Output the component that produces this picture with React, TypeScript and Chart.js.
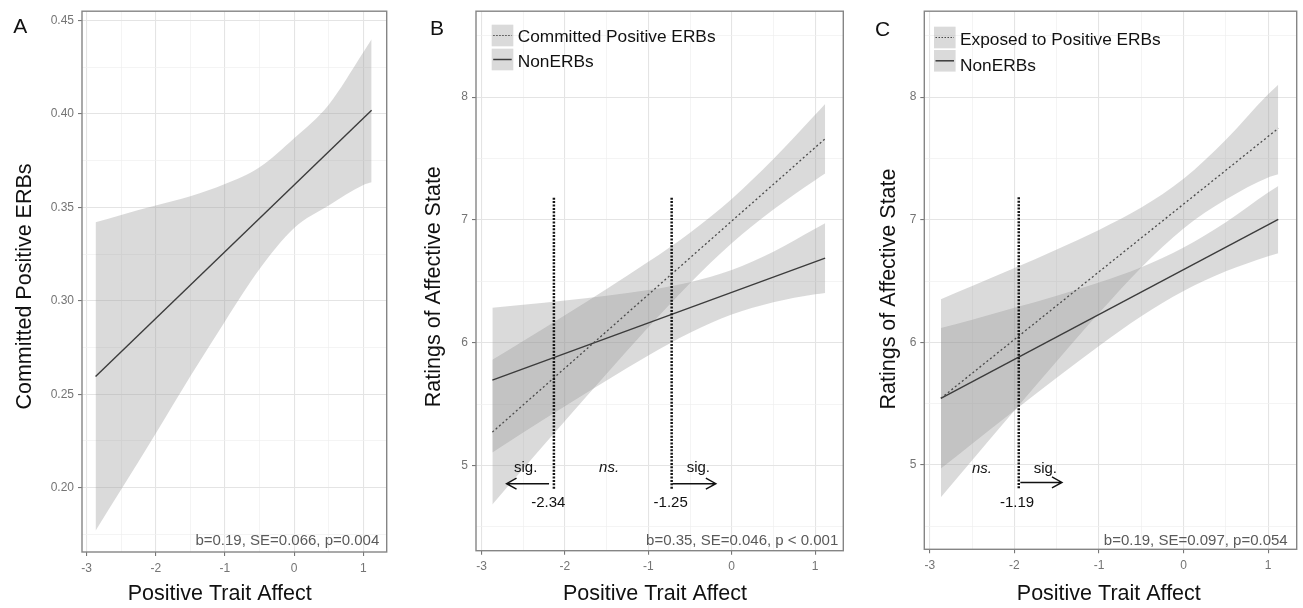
import React, { useEffect, useRef } from "react";
import { Chart, registerables } from "chart.js";

Chart.register(...registerables);

const FONT = "'Liberation Sans', Arial, Helvetica, sans-serif";

// ---------- shared x axis ----------
const X_TICKS = [-3, -2.5, -2, -1.5, -1, -0.5, 0, 0.5, 1];
const X_MAJOR = [-3, -2, -1, 0, 1];
const X_MIN = -3.066;
const X_MAX = 1.338;
const BAND_X = [-2.87, -2.5, -2, -1.5, -1, -0.5, 0, 0.5, 1, 1.12];
const LINE_X = [-2.87, 1.12];
const X_TITLE = "Positive Trait Affect";

// ---------- Panel A ----------
const A_Y_TICKS = [0.175, 0.2, 0.225, 0.25, 0.275, 0.3, 0.325, 0.35, 0.375, 0.4, 0.425, 0.45];
const A_Y_MAJOR = [0.2, 0.25, 0.3, 0.35, 0.4, 0.45];
const A_Y_MIN = 0.1656;
const A_Y_MAX = 0.455;
const A_LINE = [0.2595, 0.402];
const A_UPPER = [0.342, 0.346, 0.351, 0.356, 0.3625, 0.3715, 0.387, 0.405, 0.433, 0.44];
const A_LOWER = [0.177, 0.199, 0.229, 0.2596, 0.289, 0.317, 0.339, 0.351, 0.362, 0.3634];
const A_Y_TITLE = "Committed Positive ERBs";
const A_STATS = "b=0.19, SE=0.066, p=0.004";

// ---------- Panels B & C shared y ----------
const BC_Y_TICKS = [4.5, 5, 5.5, 6, 6.5, 7, 7.5, 8, 8.5];
const BC_Y_MAJOR = [5, 6, 7, 8];
const BC_Y_TITLE = "Ratings of Affective State";
const JN_Y = [4.81, 7.19];

// ---------- Panel B ----------
const B_Y_MIN = 4.305;
const B_Y_MAX = 8.7;
const B_COMMITTED_LINE = [5.271, 7.661];
const B_COMMITTED_UPPER = [5.861, 6.014, 6.223, 6.437, 6.658, 6.896, 7.171, 7.496, 7.856, 7.945];
const B_COMMITTED_LOWER = [4.681, 4.972, 5.361, 5.747, 6.125, 6.484, 6.809, 7.084, 7.323, 7.377];
const B_NON_LINE = [5.695, 6.689];
const B_NON_UPPER = [6.285, 6.309, 6.343, 6.382, 6.428, 6.492, 6.591, 6.741, 6.927, 6.973];
const B_NON_LOWER = [5.105, 5.267, 5.481, 5.692, 5.895, 6.08, 6.229, 6.329, 6.394, 6.405];
const B_JN_X = [-2.132, -0.72];
const B_JN_LABELS = ["-2.34", "-1.25"];
const B_JN_LABEL_X = [-2.2, -0.732];
const B_SERIES = ["Committed Positive ERBs", "NonERBs"];
const B_STATS = "b=0.35, SE=0.046, p < 0.001";

// ---------- Panel C ----------
const C_Y_MIN = 4.313;
const C_Y_MAX = 8.7;
const C_EXPOSED_LINE = [5.544, 7.745];
const C_EXPOSED_UPPER = [6.352, 6.459, 6.606, 6.758, 6.917, 7.099, 7.333, 7.652, 8.023, 8.1];
const C_EXPOSED_LOWER = [4.737, 5.039, 5.444, 5.846, 6.239, 6.611, 6.929, 7.164, 7.345, 7.37];
const C_NON_LINE = [5.544, 7.003];
const C_NON_UPPER = [6.117, 6.185, 6.282, 6.381, 6.488, 6.613, 6.773, 6.98, 7.221, 7.275];
const C_NON_LOWER = [4.971, 5.173, 5.444, 5.711, 5.97, 6.212, 6.419, 6.579, 6.703, 6.727];
const C_JN_X = [-1.949];
const C_JN_LABELS = ["-1.19"];
const C_JN_LABEL_X = [-1.969];
const C_SERIES = ["Exposed to Positive ERBs", "NonERBs"];
const C_STATS = "b=0.19, SE=0.097, p=0.054";

// ---------- styling ----------
const BAND_FILL = "rgba(153,153,153,0.36)";
const LINE_COLOR = "#3c3c3c";
const DOT_COLOR = "#4a4a4a";
const DOT_DASH = [2, 2.5];
const JN_COLOR = "#151515";

type Note = { text: string; x: number; y: number; italic?: boolean };
type Arrow = { x0: number; x1: number; y: number };

type Panel = {
  left: number;
  width: number;
  area: { left: number; right: number; top: number; bottom: number };
  yMin: number;
  yMax: number;
  yTicks: number[];
  yMajor: number[];
  yFmt: (v: number) => string;
  datasets: any[];
  letter: { text: string; x: number; y: number };
  xTitleX: number;
  yTitle: { text: string; x: number; y: number };
  stats: { text: string; x: number; y: number };
  legend?: { labels: string[]; dotted: boolean[]; keyX: number; keyY: number[]; textX: number; textY: number[] };
  notes: Note[];
  arrows: Arrow[];
};

const pts = (xs: number[], ys: number[]) => xs.map((x, i) => ({ x, y: ys[i] }));

const lineDs = (label: string, ys: number[], dotted: boolean) => ({
  label,
  data: pts(LINE_X, ys),
  borderColor: dotted ? DOT_COLOR : LINE_COLOR,
  borderWidth: dotted ? 1.3 : 1.4,
  borderDash: dotted ? DOT_DASH : [],
  pointRadius: 0,
  fill: false,
  order: 1,
});

const bandDs = (lower: number[], upper: number[], lowerIndex: number) => [
  {
    label: "lower",
    data: pts(BAND_X, lower),
    borderColor: "rgba(0,0,0,0)",
    borderWidth: 0,
    pointRadius: 0,
    cubicInterpolationMode: "monotone",
    fill: false,
    order: 5,
  },
  {
    label: "upper",
    data: pts(BAND_X, upper),
    borderColor: "rgba(0,0,0,0)",
    borderWidth: 0,
    pointRadius: 0,
    cubicInterpolationMode: "monotone",
    backgroundColor: BAND_FILL,
    fill: lowerIndex,
    order: 5,
  },
];

const jnDs = (x: number) => ({
  label: "jn",
  data: [
    { x, y: JN_Y[0] },
    { x, y: JN_Y[1] },
  ],
  borderColor: JN_COLOR,
  borderWidth: 2.5,
  borderDash: [2, 1.4],
  pointRadius: 0,
  fill: false,
  order: 0,
});

const panelA: Panel = {
  left: 0,
  width: 420,
  area: { left: 82, right: 386.7, top: 8.3, bottom: 552 },
  yMin: A_Y_MIN,
  yMax: A_Y_MAX,
  yTicks: A_Y_TICKS,
  yMajor: A_Y_MAJOR,
  yFmt: (v) => v.toFixed(2),
  datasets: [lineDs("fit", A_LINE, false), ...bandDs(A_LOWER, A_UPPER, 1)],
  letter: { text: "A", x: 13.3, y: 33.3 },
  xTitleX: 219.7,
  yTitle: { text: A_Y_TITLE, x: 30.5, y: 286.5 },
  stats: { text: A_STATS, x: 379.3, y: 545 },
  notes: [],
  arrows: [],
};

const panelB: Panel = {
  left: 420,
  width: 440,
  area: { left: 56, right: 423.3, top: 8.7, bottom: 550.7 },
  yMin: B_Y_MIN,
  yMax: B_Y_MAX,
  yTicks: BC_Y_TICKS,
  yMajor: BC_Y_MAJOR,
  yFmt: (v) => String(v),
  datasets: [
    lineDs(B_SERIES[0], B_COMMITTED_LINE, true),
    lineDs(B_SERIES[1], B_NON_LINE, false),
    jnDs(B_JN_X[0]),
    jnDs(B_JN_X[1]),
    ...bandDs(B_COMMITTED_LOWER, B_COMMITTED_UPPER, 4),
    ...bandDs(B_NON_LOWER, B_NON_UPPER, 6),
  ],
  letter: { text: "B", x: 10, y: 35 },
  xTitleX: 235,
  yTitle: { text: BC_Y_TITLE, x: 20.4, y: 286.7 },
  stats: { text: B_STATS, x: 418.3, y: 545 },
  legend: { labels: B_SERIES, dotted: [true, false], keyX: 71.7, keyY: [24.7, 48.7], textX: 97.7, textY: [42, 67] },
  notes: [
    { text: "sig.", x: -2.47, y: 4.945 },
    { text: "ns.", x: -1.47, y: 4.945, italic: true },
    { text: "sig.", x: -0.4, y: 4.945 },
    { text: B_JN_LABELS[0], x: B_JN_LABEL_X[0], y: 4.657 },
    { text: B_JN_LABELS[1], x: B_JN_LABEL_X[1], y: 4.657 },
  ],
  arrows: [
    { x0: -2.19, x1: -2.7, y: 4.851 },
    { x0: -0.71, x1: -0.19, y: 4.851 },
  ],
};

const panelC: Panel = {
  left: 860,
  width: 443,
  area: { left: 64.3, right: 436.7, top: 10.3, bottom: 549.3 },
  yMin: C_Y_MIN,
  yMax: C_Y_MAX,
  yTicks: BC_Y_TICKS,
  yMajor: BC_Y_MAJOR,
  yFmt: (v) => String(v),
  datasets: [
    lineDs(C_SERIES[0], C_EXPOSED_LINE, true),
    lineDs(C_SERIES[1], C_NON_LINE, false),
    jnDs(C_JN_X[0]),
    ...bandDs(C_EXPOSED_LOWER, C_EXPOSED_UPPER, 3),
    ...bandDs(C_NON_LOWER, C_NON_UPPER, 5),
  ],
  letter: { text: "C", x: 15, y: 36 },
  xTitleX: 248.8,
  yTitle: { text: BC_Y_TITLE, x: 35.4, y: 289 },
  stats: { text: C_STATS, x: 427.7, y: 545 },
  legend: { labels: C_SERIES, dotted: [true, false], keyX: 74, keyY: [26.7, 50], textX: 100, textY: [45, 71] },
  notes: [
    { text: "ns.", x: -2.385, y: 4.937, italic: true },
    { text: "sig.", x: -1.635, y: 4.937 },
    { text: C_JN_LABELS[0], x: C_JN_LABEL_X[0], y: 4.655 },
  ],
  arrows: [{ x0: -1.93, x1: -1.438, y: 4.858 }],
};

const PANELS = [panelA, panelB, panelC];
const H = 608;

function decorPlugin(p: Panel) {
  return {
    id: "decor",
    afterDraw(chart: any) {
      const ctx: CanvasRenderingContext2D = chart.ctx;
      const { left, top, right, bottom } = chart.chartArea;
      const xs = chart.scales.x;
      const ys = chart.scales.y;
      ctx.save();

      // panel border
      ctx.strokeStyle = "#858585";
      ctx.lineWidth = 1.4;
      ctx.strokeRect(left, top, right - left, bottom - top);

      // legend
      if (p.legend) {
        const lg = p.legend;
        lg.labels.forEach((lab, i) => {
          const ky = lg.keyY[i];
          ctx.fillStyle = BAND_FILL;
          ctx.fillRect(lg.keyX, ky, 21.6, 21.6);
          ctx.beginPath();
          ctx.strokeStyle = lg.dotted[i] ? DOT_COLOR : LINE_COLOR;
          ctx.lineWidth = lg.dotted[i] ? 1.2 : 1.5;
          ctx.setLineDash(lg.dotted[i] ? [1.5, 1.5] : []);
          ctx.moveTo(lg.keyX + 1.5, ky + 10.8);
          ctx.lineTo(lg.keyX + 20, ky + 10.8);
          ctx.stroke();
          ctx.setLineDash([]);
          ctx.fillStyle = "#111";
          ctx.font = `17.3px ${FONT}`;
          ctx.textAlign = "left";
          ctx.textBaseline = "alphabetic";
          ctx.fillText(lab, lg.textX, lg.textY[i]);
        });
      }

      // arrows
      ctx.strokeStyle = "#111";
      ctx.lineWidth = 1.4;
      p.arrows.forEach((a) => {
        const x0 = xs.getPixelForValue(a.x0);
        const x1 = xs.getPixelForValue(a.x1);
        const y = ys.getPixelForValue(a.y);
        const d = x1 > x0 ? -1 : 1;
        ctx.beginPath();
        ctx.moveTo(x0, y);
        ctx.lineTo(x1, y);
        ctx.moveTo(x1 + d * 10, y - 5.5);
        ctx.lineTo(x1, y);
        ctx.lineTo(x1 + d * 10, y + 5.5);
        ctx.stroke();
      });

      // notes
      p.notes.forEach((n) => {
        ctx.fillStyle = "#111";
        ctx.font = `${n.italic ? "italic " : ""}15px ${FONT}`;
        ctx.textAlign = "center";
        ctx.textBaseline = "alphabetic";
        ctx.fillText(n.text, xs.getPixelForValue(n.x), ys.getPixelForValue(n.y));
      });

      // stats
      ctx.fillStyle = "#5a5a5a";
      ctx.font = `15px ${FONT}`;
      ctx.textAlign = "right";
      ctx.textBaseline = "alphabetic";
      ctx.fillText(p.stats.text, p.stats.x, p.stats.y);

      // panel letter
      ctx.fillStyle = "#111";
      ctx.font = `21px ${FONT}`;
      ctx.textAlign = "left";
      ctx.fillText(p.letter.text, p.letter.x, p.letter.y);

      // axis titles
      ctx.font = `21.5px ${FONT}`;
      ctx.textAlign = "center";
      ctx.fillText(X_TITLE, p.xTitleX, 600);
      ctx.save();
      ctx.translate(p.yTitle.x, p.yTitle.y);
      ctx.rotate(-Math.PI / 2);
      ctx.fillText(p.yTitle.text, 0, 0);
      ctx.restore();

      ctx.restore();
    },
  };
}

function PanelChart({ p }: { p: Panel }) {
  const ref = useRef<HTMLCanvasElement | null>(null);
  useEffect(() => {
    if (!ref.current) return;
    const isMajX = (v: number) => X_MAJOR.includes(v);
    const isMajY = (v: number) => p.yMajor.includes(v);
    const chart = new Chart(ref.current, {
      type: "line",
      data: { datasets: p.datasets },
      options: {
        animation: false,
        responsive: false,
        devicePixelRatio: 1,
        layout: {
          padding: { left: 0, top: p.area.top, right: p.width - p.area.right, bottom: 0 },
        },
        plugins: { legend: { display: false }, tooltip: { enabled: false } },
        elements: { line: { tension: 0 } },
        scales: {
          x: {
            type: "linear",
            min: X_MIN,
            max: X_MAX,
            afterBuildTicks: (s: any) => {
              s.ticks = X_TICKS.map((v) => ({ value: v }));
            },
            afterFit: (s: any) => {
              s.height = H - p.area.bottom;
            },
            border: { display: false },
            grid: {
              drawTicks: true,
              tickLength: 4,
              color: (c: any) => (isMajX(c.tick?.value) ? "#e4e4e4" : "#efefef"),
              lineWidth: (c: any) => (isMajX(c.tick?.value) ? 1.1 : 0.7),
              tickColor: (c: any) => (isMajX(c.tick?.value) ? "#777" : "rgba(0,0,0,0)"),
            },
            ticks: {
              autoSkip: false,
              maxRotation: 0,
              padding: 5,
              color: "#747474",
              font: { family: FONT, size: 12 },
              callback: (v: any) => (isMajX(Number(v)) ? String(v) : ""),
            },
          },
          y: {
            type: "linear",
            min: p.yMin,
            max: p.yMax,
            afterBuildTicks: (s: any) => {
              s.ticks = p.yTicks.map((v) => ({ value: v }));
            },
            afterFit: (s: any) => {
              s.width = p.area.left;
            },
            border: { display: false },
            grid: {
              drawTicks: true,
              tickLength: 4,
              color: (c: any) => (isMajY(c.tick?.value) ? "#e4e4e4" : "#efefef"),
              lineWidth: (c: any) => (isMajY(c.tick?.value) ? 1.1 : 0.7),
              tickColor: (c: any) => (isMajY(c.tick?.value) ? "#777" : "rgba(0,0,0,0)"),
            },
            ticks: {
              autoSkip: false,
              padding: 4,
              color: "#747474",
              font: { family: FONT, size: 12 },
              callback: (v: any) => (isMajY(Number(v)) ? p.yFmt(Number(v)) : ""),
            },
          },
        },
      } as any,
      plugins: [decorPlugin(p)],
    });
    return () => chart.destroy();
  }, [p]);
  return (
    <canvas
      ref={ref}
      width={p.width}
      height={H}
      style={{ position: "absolute", left: p.left, top: 0, width: p.width, height: H }}
    />
  );
}

export default function App() {
  return (
    <div
      style={{
        position: "absolute",
        left: 0,
        top: 0,
        width: 1303,
        height: 608,
        background: "#ffffff",
        overflow: "hidden",
      }}
    >
      {PANELS.map((p, i) => (
        <PanelChart key={i} p={p} />
      ))}
    </div>
  );
}
